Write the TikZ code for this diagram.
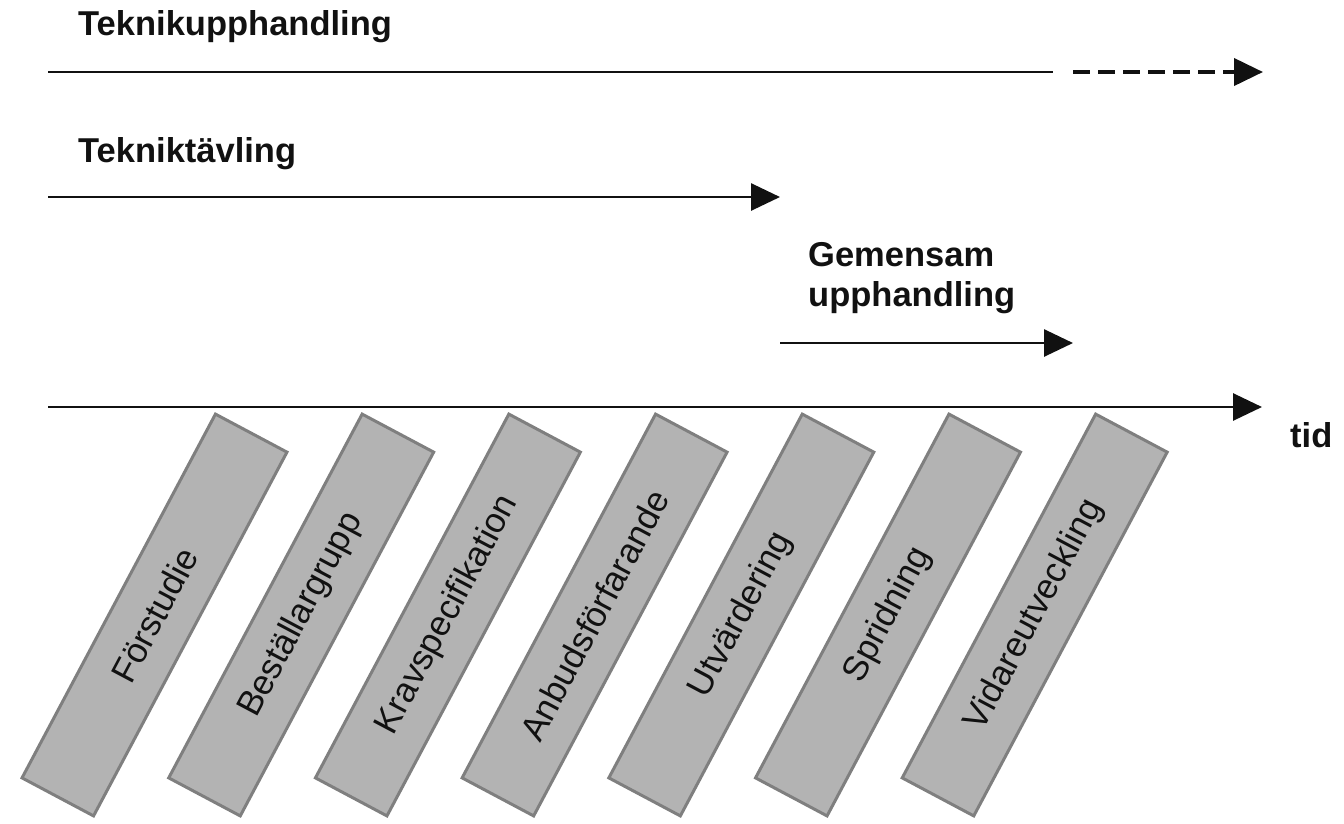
\documentclass[tikz,border=0pt]{standalone}
\usepackage{fontspec}
\setmainfont{Liberation Sans}
\usetikzlibrary{arrows.meta}
\definecolor{boxfill}{HTML}{B3B3B3}
\definecolor{boxline}{HTML}{7F7F7F}
\definecolor{ink}{HTML}{111111}
\begin{document}
\begin{tikzpicture}[x=1pt,y=-1pt,
  title/.style={font=\fontsize{34.5}{40}\selectfont\bfseries, text=ink, inner sep=0pt, anchor=base west},
  phase/.style={draw=boxline, fill=boxfill, line width=3pt, rotate=62, minimum width=412pt, minimum height=81pt, inner sep=0pt, text=ink, font=\fontsize{35}{40}\selectfont},
  tip/.style={-{Triangle[length=29pt,width=27pt]}},
  axis/.style={draw=ink, line width=2.8pt},
]
\useasboundingbox (0,0) rectangle (1344,823);

% titles
\node[title] (tu) at (78,35) {Teknikupphandling};
\node[title] (tt) at (78,162) {Tekniktävling};
\node[title, anchor=north west, align=left] (gu) at (808,242) {Gemensam\\upphandling};
\node[title] (tid) at (1290,447) {tid};

% Teknikupphandling arrow
\coordinate (u0) at (48,72);
\coordinate (u1) at (1053,72);
\coordinate (u2) at (1073,72);
\coordinate (u3) at (1263,72);
\draw[axis] (u0) -- (u1);
\draw[axis, tip, line width=4pt, dash pattern=on 17pt off 8pt] (u2) -- (u3);

% Tekniktävling arrow
\coordinate (v0) at (48,197);
\coordinate (v1) at (780,197);
\draw[axis, tip] (v0) -- (v1);

% Gemensam upphandling arrow
\coordinate (g0) at (780,343);
\coordinate (g1) at (1073,343);
\draw[axis, tip] (g0) -- (g1);

% time axis
\coordinate (a0) at (48,407);
\coordinate (a1) at (1262,407);
\draw[axis, tip] (a0) -- (a1);

% phases
\node[phase] (p1) at (154.5,615) {Förstudie};
\node[phase] (p2) at (301.2,615) {Beställargrupp};
\node[phase] (p3) at (447.9,615) {Kravspecifikation};
\node[phase] (p4) at (594.6,615) {Anbudsförfarande};
\node[phase] (p5) at (741.3,615) {Utvärdering};
\node[phase] (p6) at (888.0,615) {Spridning};
\node[phase] (p7) at (1034.7,615) {Vidareutveckling};
\end{tikzpicture}
\end{document}
